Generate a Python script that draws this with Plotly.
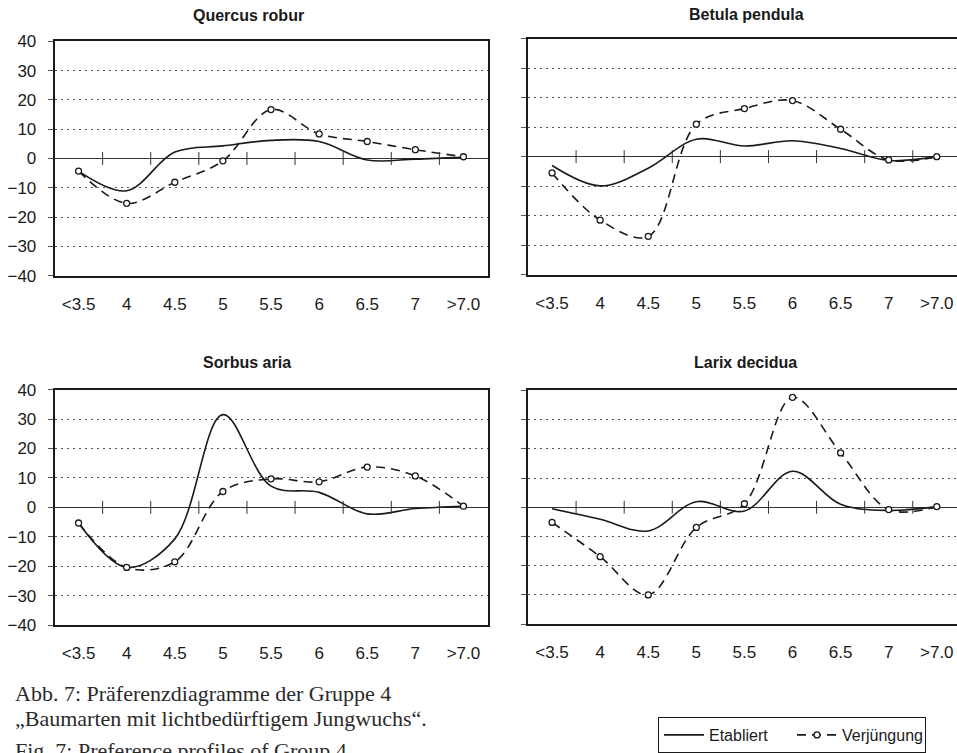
import plotly.graph_objects as go

categories = ["<3.5", "4", "4.5", "5", "5.5", "6", "6.5", "7", ">7.0"]
y_ticks = [-40, -30, -20, -10, 0, 10, 20, 30, 40]

titles = ["Quercus robur", "Betula pendula", "Sorbus aria", "Larix decidua"]

quercus_etabliert = [-4.3, -11.0, 2.2, 4.3, 6.2, 5.8, -0.5, -0.2, 0.4]
quercus_verjuengung = [-4.3, -15.3, -8.1, -0.8, 16.7, 8.4, 5.8, 3.0, 0.6]

betula_etabliert = [-3.0, -9.9, -3.9, 5.9, 3.6, 5.4, 2.8, -1.3, 0.1]
betula_verjuengung = [-5.5, -21.5, -27.0, 11.0, 16.3, 19.0, 9.3, -1.1, 0.0]

sorbus_etabliert = [-5.3, -20.4, -10.7, 31.5, 7.2, 5.1, -2.2, -0.4, 0.4]
sorbus_verjuengung = [-5.3, -20.4, -18.5, 5.4, 9.7, 8.7, 13.7, 10.7, 0.4]

larix_etabliert = [-0.5, -4.1, -8.1, 1.9, -1.3, 12.3, 1.0, -1.1, 0.2]
larix_verjuengung = [-5.2, -16.9, -30.0, -6.9, 1.2, 37.6, 18.6, -0.8, 0.2]

series = [
    (quercus_etabliert, quercus_verjuengung),
    (betula_etabliert, betula_verjuengung),
    (sorbus_etabliert, sorbus_verjuengung),
    (larix_etabliert, larix_verjuengung),
]

W, H = 957, 753
# plot-area pixel boxes: left, right, top, bottom
boxes = [
    (54.5, 487.5, 41.7, 278.3),
    (528.0, 957.0, 39.0, 277.3),
    (54.5, 487.5, 393.3, 631.0),
    (528.0, 957.0, 394.0, 630.0),
]
x_ranges = [[-0.5, 8.5], [-0.5, 8.42], [-0.5, 8.5], [-0.5, 8.42]]
title_pos = [(248, 16), (746, 15), (247, 366), (745, 366)]

xs = list(range(len(categories)))
fig = go.Figure()
layout = {}
shapes = []
annotations = []
INK = "#1a1a1a"
SANS = "Liberation Sans, Arial, sans-serif"

for k, (est, ver) in enumerate(series):
    n = "" if k == 0 else str(k + 1)
    xa, ya = "x" + n, "y" + n
    fig.add_trace(go.Scatter(
        x=xs, y=est, mode="lines", name="Etabliert",
        line=dict(color=INK, width=1.6, shape="spline", smoothing=1.0),
        xaxis=xa, yaxis=ya, showlegend=(k == 0)))
    fig.add_trace(go.Scatter(
        x=xs, y=ver, mode="lines+markers", name="Verjüngung",
        line=dict(color=INK, width=1.6, dash="9px,6px", shape="spline", smoothing=1.0),
        marker=dict(symbol="circle", size=6, color="white", line=dict(color=INK, width=1.3)),
        xaxis=xa, yaxis=ya, showlegend=(k == 0)))

    l, r, t, b = boxes[k]
    left_col = k in (0, 2)
    layout["xaxis" + n] = dict(
        domain=[l / W, r / W], anchor=ya, range=x_ranges[k],
        tickmode="array", tickvals=xs, ticktext=categories,
        showgrid=False, zeroline=False, showline=True, mirror=True,
        linecolor=INK, linewidth=1.6, ticks="", ticklabelstandoff=12,
        tickfont=dict(family=SANS, size=17, color=INK),
        automargin=False, fixedrange=True)
    layout["yaxis" + n] = dict(
        domain=[1 - b / H, 1 - t / H], anchor=xa, range=[-40, 40],
        tickmode="array", tickvals=y_ticks,
        showticklabels=left_col,
        showgrid=True, gridcolor="#555", gridwidth=1, griddash="2px,4px",
        zeroline=True, zerolinecolor="#333", zerolinewidth=1,
        showline=True, mirror=left_col, linecolor=INK, linewidth=1.6,
        ticks="outside", ticklen=5, tickcolor="#555", tickwidth=1,
        ticklabelstandoff=8,
        tickfont=dict(family=SANS, size=17, color=INK),
        automargin=False, fixedrange=True)

    # category separator ticks crossing the zero line
    for i in range(len(categories) - 1):
        shapes.append(dict(type="line", xref=xa, yref=ya,
                           x0=i + 0.5, x1=i + 0.5, y0=-2.2, y1=2.2,
                           line=dict(color="#333", width=1)))

    tx, ty = title_pos[k]
    annotations.append(dict(text="<b>" + titles[k] + "</b>", xref="paper", yref="paper",
                            x=tx / W, y=1 - ty / H, xanchor="center", yanchor="middle",
                            showarrow=False,
                            font=dict(family=SANS, size=16, color=INK)))

caption_lines = [
    "Abb. 7: Präferenzdiagramme der Gruppe 4",
    "„Baumarten mit lichtbedürftigem Jungwuchs“.",
    "Fig. 7: Preference profiles of Group 4",
]
caption_y = [700, 725, 758]
for txt, cy in zip(caption_lines, caption_y):
    annotations.append(dict(text=txt, xref="paper", yref="paper",
                            x=13 / W, y=1 - cy / H, xanchor="left", yanchor="middle",
                            showarrow=False,
                            font=dict(family="Liberation Serif, serif", size=22, color="#2a2a2a")))

fig.update_layout(
    **layout,
    width=W, height=H,
    margin=dict(l=0, r=0, t=0, b=0),
    paper_bgcolor="white", plot_bgcolor="white",
    shapes=shapes, annotations=annotations,
    legend=dict(orientation="h", x=658 / W, y=1 - 724 / H, xanchor="left", yanchor="top",
                bordercolor=INK, borderwidth=1, bgcolor="white",
                font=dict(family=SANS, size=16, color=INK),
                itemwidth=40, entrywidth=78, entrywidthmode="pixels", tracegroupgap=0),
    font=dict(family=SANS, color=INK),
)

fig.write_html("out.html", config={"displayModeBar": False},
               post_script="document.body.style.margin='0';")
